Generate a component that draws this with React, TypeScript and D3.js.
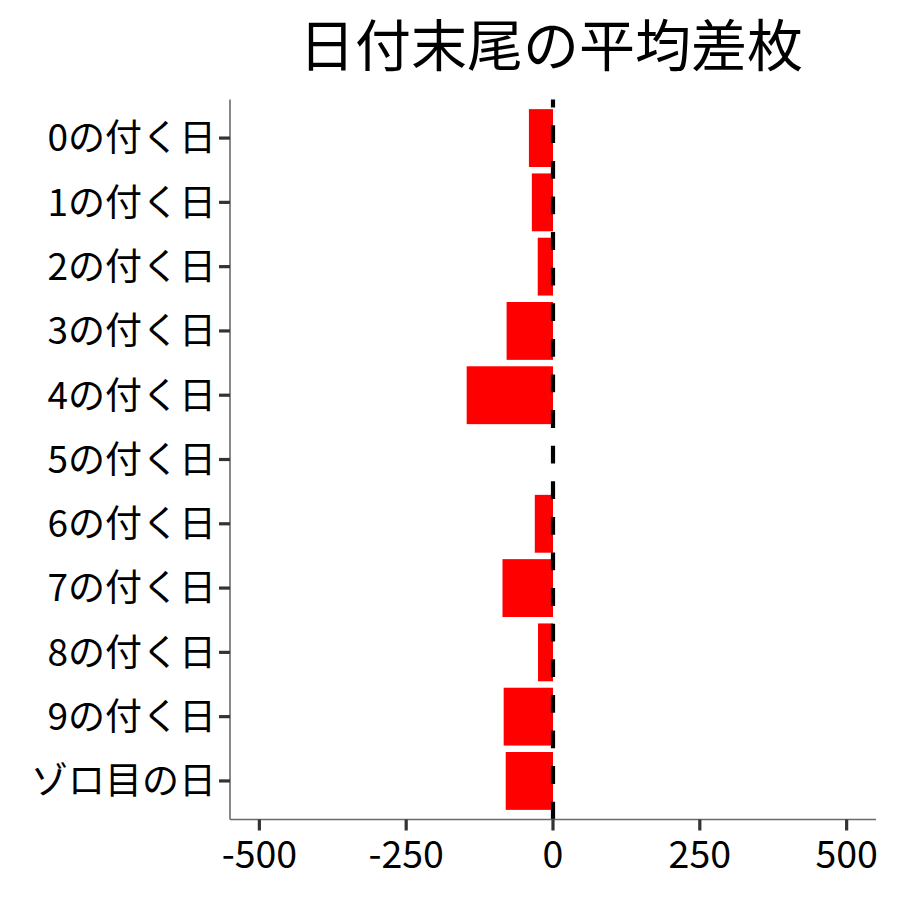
import * as d3 from "d3";

const categories = [
  "0の付く日",
  "1の付く日",
  "2の付く日",
  "3の付く日",
  "4の付く日",
  "5の付く日",
  "6の付く日",
  "7の付く日",
  "8の付く日",
  "9の付く日",
  "ゾロ目の日",
];
const avgDiff = [-41, -36, -26, -79, -147, 0, -31, -86, -25.5, -84, -80.5];
const xTicks = [-500, -250, 0, 250, 500];
const title = "日付末尾の平均差枚";

const W = 900;
const H = 900;
const font = "'Noto Sans CJK JP', 'Noto Sans', sans-serif";

export default function App() {
  const margin = { top: 99.5, right: 24, bottom: 80.5, left: 230 };
  const innerW = W - margin.left - margin.right;
  const innerH = H - margin.top - margin.bottom;

  const x = d3.scaleLinear().domain([-550, 550]).range([0, innerW]);
  const y = d3.scalePoint<string>().domain(categories).range([0, innerH]).padding(0.6);
  const barH = y.step() * 0.9;

  return (
    <svg width={W} height={H} style={{ position: "absolute", left: 0, top: 0, background: "#fff" }}>
      <text
        x={margin.left + innerW / 2 - 2}
        y={66}
        textAnchor="middle"
        fontFamily={font}
        fontSize={56}
        fill="#000"
      >
        {title}
      </text>
      <g transform={`translate(${margin.left},${margin.top})`}>
        {categories.map((c, i) => {
          const v = avgDiff[i];
          return (
            <rect
              key={c}
              x={x(Math.min(0, v))}
              y={y(c)! - barH / 2}
              width={Math.abs(x(v) - x(0))}
              height={barH}
              fill="#ff0000"
            />
          );
        })}
        {/* zero reference line, drawn bottom to top */}
        <line
          x1={x(0)}
          x2={x(0)}
          y1={innerH}
          y2={0}
          stroke="#000"
          strokeWidth={4.2}
          strokeDasharray="17.8 17.8"
        />
        {/* y axis */}
        <line x1={0} x2={0} y1={0} y2={innerH} stroke="#6b6b6b" strokeWidth={1.6} />
        {categories.map((c) => (
          <g key={c} transform={`translate(0,${y(c)})`}>
            <line x1={-11} x2={0} stroke="#333" strokeWidth={3.2} />
            <text
              x={-14}
              dy="0.36em"
              textAnchor="end"
              fontFamily={font}
              fontSize={37}
              fill="#000"
            >
              {c}
            </text>
          </g>
        ))}
        {/* x axis */}
        <line x1={0} x2={innerW} y1={innerH} y2={innerH} stroke="#6b6b6b" strokeWidth={1.6} />
        {xTicks.map((t) => (
          <g key={t} transform={`translate(${x(t)},${innerH})`}>
            <line y1={0} y2={11} stroke="#333" strokeWidth={3.2} />
            <text
              y={48}
              textAnchor="middle"
              fontFamily={font}
              fontSize={37.5}
              fill="#000"
            >
              {t}
            </text>
          </g>
        ))}
      </g>
    </svg>
  );
}
